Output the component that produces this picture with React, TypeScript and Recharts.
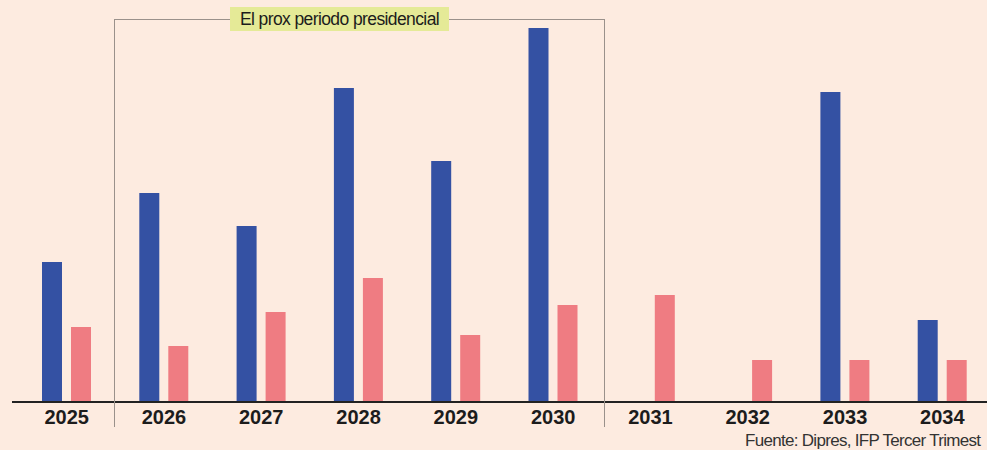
import React from "react";
import { BarChart, Bar, XAxis, YAxis } from "recharts";

// años y valores (escala relativa)
const years = ["2025", "2026", "2027", "2028", "2029", "2030", "2031", "2032", "2033", "2034"];
const blueValues: (number | null)[] = [14.0, 20.9, 17.6, 31.4, 24.1, 37.4, null, null, 31.0, 8.2];
const pinkValues: number[] = [7.5, 5.6, 9.0, 12.4, 6.7, 9.7, 10.7, 4.2, 4.2, 4.2];

const periodLabel = "El prox periodo presidencial";
const sourceLabel = "Fuente: Dipres, IFP Tercer Trimest";

const W = 987;
const H = 450;
const BG = "#fdebe0";
const BLUE = "#3451a3";
const PINK = "#ef7c82";

const data = years.map((year, i) => ({ year, blue: blueValues[i], pink: pinkValues[i] }));

export default function App(): React.ReactElement {
  const font = "'Liberation Sans', Arial, sans-serif";
  return (
    <div style={{ position: "absolute", left: 0, top: 0, width: W, height: H, background: BG, overflow: "hidden" }}>
      <BarChart
        width={W}
        height={H}
        data={data}
        margin={{ top: 22, right: -4, left: 12, bottom: 18 }}
        barSize={20}
        barGap={9}
      >
        <YAxis hide domain={[0, 38]} />
        <XAxis
          dataKey="year"
          height={30}
          padding={{ left: 6, right: 0 }}
          tickLine={false}
          tickSize={0}
          tickMargin={8}
          axisLine={{ stroke: "#222", strokeWidth: 2 }}
          tick={{ fontSize: 20, fontWeight: 700, fill: "#1c1c1c", fontFamily: font }}
          interval={0}
        />
        <Bar dataKey="blue" fill={BLUE} isAnimationActive={false} />
        <Bar dataKey="pink" fill={PINK} isAnimationActive={false} />
      </BarChart>
      <svg
        width={W}
        height={H}
        style={{ position: "absolute", left: 0, top: 0, pointerEvents: "none" }}
      >
        {/* recuadro del próximo periodo */}
        <line x1={114.5} y1={19} x2={114.5} y2={427} stroke="#9a918b" strokeWidth={1} />
        <line x1={604.5} y1={19} x2={604.5} y2={427} stroke="#9a918b" strokeWidth={1} />
        <line x1={114} y1={19.5} x2={605} y2={19.5} stroke="#9a918b" strokeWidth={1} />
        <rect x={230} y={7} width={219} height={24} fill="#e5ea97" />
        <text x={339.5} y={25} textAnchor="middle" fontSize={17.5} fill="#1c1c1c" fontFamily={font} letterSpacing={-0.6}>
          {periodLabel}
        </text>
        <text x={745} y={446} fontSize={17} fill="#333" fontFamily={font} letterSpacing={-0.7}>
          {sourceLabel}
        </text>
      </svg>
    </div>
  );
}
